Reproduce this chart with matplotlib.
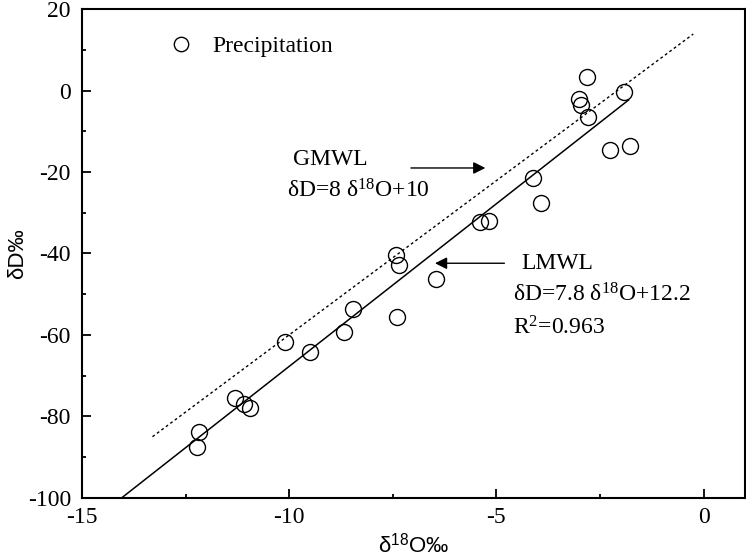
import matplotlib
matplotlib.use("Agg")
import matplotlib.pyplot as plt
from matplotlib.ticker import MultipleLocator

plt.rcParams['font.family'] = ['Liberation Serif', 'DejaVu Serif']
plt.rcParams['mathtext.fontset'] = 'custom'
plt.rcParams['mathtext.rm'] = 'Liberation Serif'
plt.rcParams['mathtext.it'] = 'Liberation Serif:italic'
plt.rcParams['mathtext.sf'] = 'Liberation Sans'
plt.rcParams['axes.unicode_minus'] = False

# precipitation samples (d18O, dD)
d18o = [-2.81, -3.01, -2.95, -2.79, -1.92, -2.25, -1.78, -4.11, -3.92, -5.39,
        -5.19, -7.42, -7.36, -6.47, -7.40, -8.45, -8.69, -10.10, -9.51, -11.30,
        -11.10, -10.94, -12.17, -12.23]
dD = [3.4, -2.1, -3.5, -6.5, -0.4, -14.7, -13.6, -21.5, -27.5, -32.2,
      -32.0, -40.4, -42.8, -46.3, -55.5, -53.6, -59.2, -61.7, -64.1, -75.6,
      -77.0, -78.0, -83.8, -87.5]

# fitted lines, endpoints as drawn
lmwl_x = [-14.04, -1.81]
lmwl_y = [-100.0, -2.3]
gmwl_x = [-13.3, -0.25]
gmwl_y = [-85.0, 13.9]

fs = 17

fig = plt.figure(figsize=(7.46, 5.58), dpi=100)
ax = fig.add_axes([0.110, 0.108, 0.8887, 0.8755])

ax.plot(gmwl_x, gmwl_y, color='black', lw=1.0, linestyle=(0, (2, 2)))
ax.plot(lmwl_x, lmwl_y, color='black', lw=1.1)
ax.plot(d18o, dD, 'o', mfc='none', mec='black', ms=11.5, mew=1.0,
        label='Precipitation', linestyle='none')

ax.set_xlim(-15, 1)
ax.set_ylim(-100, 20)
ax.xaxis.set_major_locator(MultipleLocator(5))
ax.xaxis.set_minor_locator(MultipleLocator(2.5))
ax.yaxis.set_major_locator(MultipleLocator(20))
ax.yaxis.set_minor_locator(MultipleLocator(10))
ax.tick_params(which='both', direction='in', top=False, right=False,
               labelsize=fs, width=1.3)
ax.tick_params(axis='x', which='major', length=6.5, pad=7)
ax.tick_params(axis='y', which='major', length=6.5, pad=8)
ax.tick_params(which='minor', length=3.2)
for s in ax.spines.values():
    s.set_linewidth(1.5)

ax.set_xlabel(r'δ$^{\mathsf{18}}$O‰', family='Liberation Sans', fontsize=16, labelpad=3)
ax.set_ylabel('δD‰', family='Liberation Sans', fontsize=16, labelpad=0)

leg = ax.legend(loc='upper left', bbox_to_anchor=(0.10, 0.99), frameon=False,
                fontsize=fs, handlelength=1.0, handletextpad=0.8, markerscale=0.9)

ax.text(-9.9, -16.8, 'GMWL', fontsize=fs, va='center')
ax.text(-10.06, -24.6, r'δD=8 δ$^{18}$O+10', fontsize=fs, va='center')
ax.annotate('', xy=(-5.2, -19.0), xytext=(-7.13, -19.0),
            arrowprops=dict(arrowstyle='-|>', color='black', lw=1.0,
                            mutation_scale=18))

ax.text(-4.4, -42.4, 'LMWL', fontsize=fs, va='center')
ax.text(-4.6, -50.2, r'δD=7.8 δ$^{18}$O+12.2', fontsize=fs, va='center')
ax.text(-4.6, -58.3, r'R$^{2}$=0.963', fontsize=fs, va='center')
ax.annotate('', xy=(-6.55, -42.4), xytext=(-4.74, -42.4),
            arrowprops=dict(arrowstyle='-|>', color='black', lw=1.0,
                            mutation_scale=18))

fig.savefig('out.png', dpi=100)
